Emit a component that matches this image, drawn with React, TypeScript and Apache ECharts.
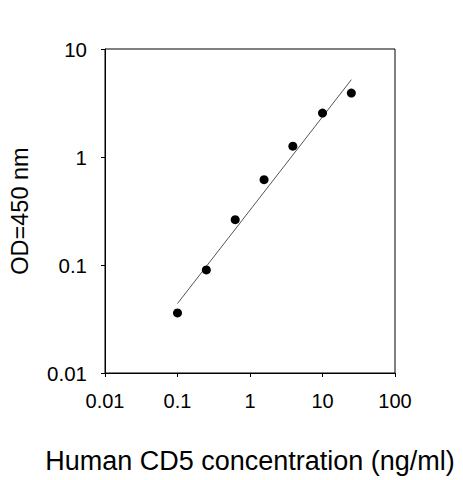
import React, { useEffect, useRef } from "react";
import * as echarts from "echarts";

const concentration = [0.1, 0.25, 0.625, 1.5625, 3.9, 10, 25];
const od450 = [0.036, 0.09, 0.263, 0.617, 1.26, 2.55, 3.91];
const fitX = [0.1, 25];
const fitY = [0.044, 5.2];
const xTicks = ["0.01", "0.1", "1", "10", "100"];
const yTicks = ["0.01", "0.1", "1", "10"];
const xTitle = "Human CD5 concentration (ng/ml)";
const yTitle = "OD=450 nm";

const fmt = (v: number) => {
  const all = [...xTicks, ...yTicks];
  const hit = all.find((t) => Math.abs(parseFloat(t) - v) / v < 1e-6);
  return hit ?? String(v);
};

export default function App() {
  const ref = useRef<HTMLDivElement>(null);
  useEffect(() => {
    if (!ref.current) return;
    const chart = echarts.init(ref.current, null, { renderer: "svg" });
    const font = "Liberation Sans, Arial, sans-serif";
    chart.setOption({
      animation: false,
      backgroundColor: "#ffffff",
      grid: {
        left: 102,
        right: 68,
        top: 49,
        bottom: 107,
        show: true,
        borderColor: "#000",
        borderWidth: 1,
        backgroundColor: "transparent",
      },
      xAxis: {
        type: "log",
        logBase: 10,
        min: 0.01,
        max: 100,
        name: xTitle,
        nameLocation: "middle",
        nameGap: 74,
        nameTextStyle: { fontFamily: font, fontSize: 27, color: "#000" },
        axisLine: { show: true, lineStyle: { color: "#000", width: 1 } },
        axisTick: { show: true, inside: false, length: 4, lineStyle: { color: "#000" } },
        minorTick: { show: false },
        splitLine: { show: false },
        axisLabel: {
          fontFamily: font,
          fontSize: 20,
          color: "#000",
          margin: 18,
          formatter: (v: number) => fmt(v),
        },
      },
      yAxis: {
        type: "log",
        logBase: 10,
        min: 0.01,
        max: 10,
        name: yTitle,
        nameLocation: "middle",
        nameGap: 73,
        nameRotate: 90,
        nameTextStyle: { fontFamily: font, fontSize: 23.5, color: "#000" },
        axisLine: { show: true, lineStyle: { color: "#000", width: 1 } },
        axisTick: { show: true, inside: false, length: 4, lineStyle: { color: "#000" } },
        minorTick: { show: false },
        splitLine: { show: false },
        axisLabel: {
          fontFamily: font,
          fontSize: 20.5,
          color: "#000",
          margin: 18,
          formatter: (v: number) => fmt(v),
        },
      },
      series: [
        {
          type: "line",
          data: fitX.map((x, i) => [x, fitY[i]]),
          showSymbol: false,
          symbol: "none",
          lineStyle: { color: "#555", width: 1 },
          silent: true,
          z: 1,
        },
        {
          type: "scatter",
          data: concentration.map((x, i) => [x, od450[i]]),
          symbol: "circle",
          symbolSize: 9,
          itemStyle: { color: "#000", opacity: 1 },
          z: 2,
        },
      ],
    });
    return () => chart.dispose();
  }, []);
  return (
    <div
      ref={ref}
      style={{ position: "fixed", left: 0, top: 0, width: 463, height: 480, background: "#fff" }}
    />
  );
}
